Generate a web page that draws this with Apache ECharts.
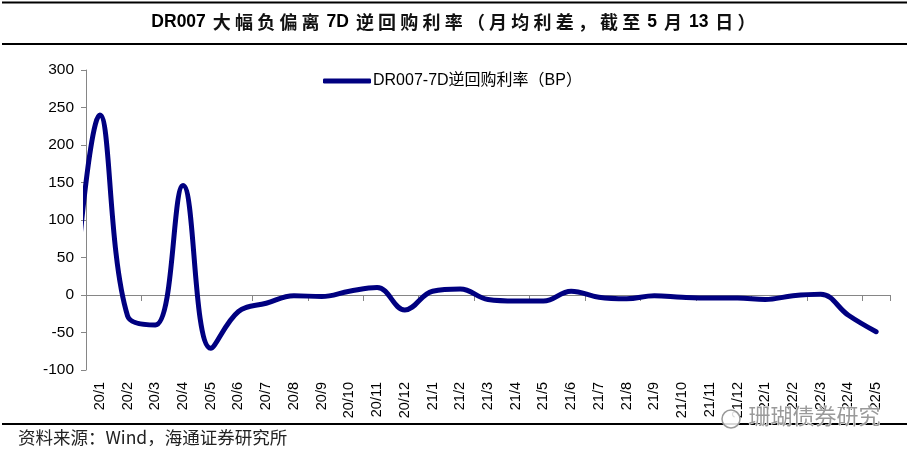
<!DOCTYPE html>
<html>
<head>
<meta charset="utf-8">
<script src="https://cdn.jsdelivr.net/npm/echarts@6/dist/echarts.min.js"></script>
<style>
  html, body { margin: 0; padding: 0; background: #fff; }
  #chart { width: 909px; height: 458px; }
</style>
</head>
<body>
<div id="chart"></div>
<script>
// Month labels (year/month)
var categories = ['20/1','20/2','20/3','20/4','20/5','20/6','20/7','20/8','20/9','20/10','20/11','20/12',
                  '21/1','21/2','21/3','21/4','21/5','21/6','21/7','21/8','21/9','21/10','21/11','21/12',
                  '22/1','22/2','22/3','22/4','22/5'];
// DR007 minus 7D reverse repo rate, monthly average spread (BP)
var spread = [240, -28, -40, 146, -71, -22, -11, -1, -2, 5, 10, -20,
              5, 8, -6, -8, -8, 5, -3, -5, -1, -3, -4, -4,
              -6, -1, 1, -27, -49];
// Previous month (19/12): only its curve segment enters the plot at the left edge
var priorMonthValue = -40;
var yTicks = { min: -100, max: 300, interval: 50 };

var seriesName = 'DR007-7D逆回购利率（BP）';
var titleParts = [
  ['l', 'DR007 '], ['c', '大幅负偏离'], ['l', ' 7D '], ['c', '逆回购利率（月均利差，截至'],
  ['l', ' 5 '], ['c', '月'], ['l', ' 13 '], ['c', '日）']
];
var sourceText = '资料来源：Wind，海通证券研究所';
var watermarkText = '珊瑚债券研究';

var lineData = [[-1, priorMonthValue]];
for (var i = 0; i < spread.length; i++) lineData.push([i, spread[i]]);

var FONT = '"Liberation Sans", Arial, "Noto Sans CJK SC", sans-serif';
var CJK = '"Noto Sans CJK SC", sans-serif';
// Latin runs as one token; CJK runs one token per character (for the wider CJK spacing)
var titleRich = titleParts.map(function (p) {
  if (p[0] === 'l') return '{l|' + p[1] + '}';
  return p[1].split('').map(function (ch) { return '{c|' + ch + '}'; }).join('');
}).join('');

var chart = echarts.init(document.getElementById('chart'));
chart.setOption({
  backgroundColor: '#fff',
  animation: false,
  title: {
    text: titleRich,
    left: 'center',
    top: 8,
    textStyle: {
      rich: {
        l: { fontSize: 17.5, fontWeight: 'bold', color: '#000', fontFamily: FONT },
        c: { fontSize: 18, fontWeight: 'bold', color: '#111', fontFamily: CJK, padding: [0, 2.1, 0, 2.1] }
      }
    }
  },
  legend: {
    left: 318,
    top: 68,
    icon: 'roundRect',
    itemWidth: 48,
    itemHeight: 5,
    itemGap: 4,
    textStyle: { fontSize: 16, color: '#000', fontFamily: FONT, padding: [0, 0, 0, -3] },
    data: [seriesName]
  },
  grid: { left: 86, top: 70, right: 19, bottom: 88, containLabel: false },
  xAxis: [
    {
      type: 'category',
      data: categories,
      position: 'bottom',
      boundaryGap: true,
      axisLine: { onZero: true, lineStyle: { color: '#868686', width: 1 } },
      axisTick: { show: true, length: 6, lineStyle: { color: '#868686' } },
      axisLabel: { show: false },
      splitLine: { show: false }
    },
    {
      type: 'category',
      data: categories,
      position: 'bottom',
      boundaryGap: true,
      axisLine: { show: false, onZero: false },
      axisTick: { show: false },
      axisLabel: { rotate: 90, fontSize: 14.5, color: '#000', margin: 12, fontFamily: FONT, interval: 0 },
      splitLine: { show: false }
    },
    {
      type: 'value',
      position: 'top',
      min: -0.5,
      max: 28.5,
      show: false
    }
  ],
  yAxis: {
    type: 'value',
    min: yTicks.min,
    max: yTicks.max,
    interval: yTicks.interval,
    axisLine: { show: true, onZero: false, lineStyle: { color: '#868686', width: 1 } },
    axisTick: { show: true, length: 5, lineStyle: { color: '#868686' } },
    axisLabel: { fontSize: 15.5, color: '#000', margin: 12, fontFamily: FONT },
    splitLine: { show: false }
  },
  series: [{
    name: seriesName,
    type: 'line',
    xAxisIndex: 2,
    data: lineData,
    smooth: 0.4,
    symbol: 'none',
    clip: true,
    lineStyle: { width: 5, color: '#000080', cap: 'round' },
    itemStyle: { color: '#000080' }
  }],
  graphic: [
    { type: 'line', shape: { x1: 2, y1: 2.5, x2: 907, y2: 2.5 }, style: { stroke: '#000', lineWidth: 2 } },
    { type: 'line', shape: { x1: 2, y1: 44, x2: 907, y2: 44 }, style: { stroke: '#000', lineWidth: 2 } },
    { type: 'line', shape: { x1: 2, y1: 424, x2: 907, y2: 424 }, style: { stroke: '#000', lineWidth: 2 } },
    { type: 'text', left: 18, top: 429, style: { text: sourceText, fontSize: 17.5, fill: '#222', fontFamily: CJK } },
    { type: 'circle', shape: { cx: 731, cy: 419, r: 9 }, z: 100, style: { fill: 'rgba(255,255,255,0.85)', stroke: '#9a9a9a', lineWidth: 1.5 } },
    { type: 'text', left: 748, top: 404, z: 100, style: { text: watermarkText, fontSize: 22, fill: '#9a9a9a', stroke: '#fff', lineWidth: 1, fontFamily: CJK } }
  ]
});
</script>
</body>
</html>
